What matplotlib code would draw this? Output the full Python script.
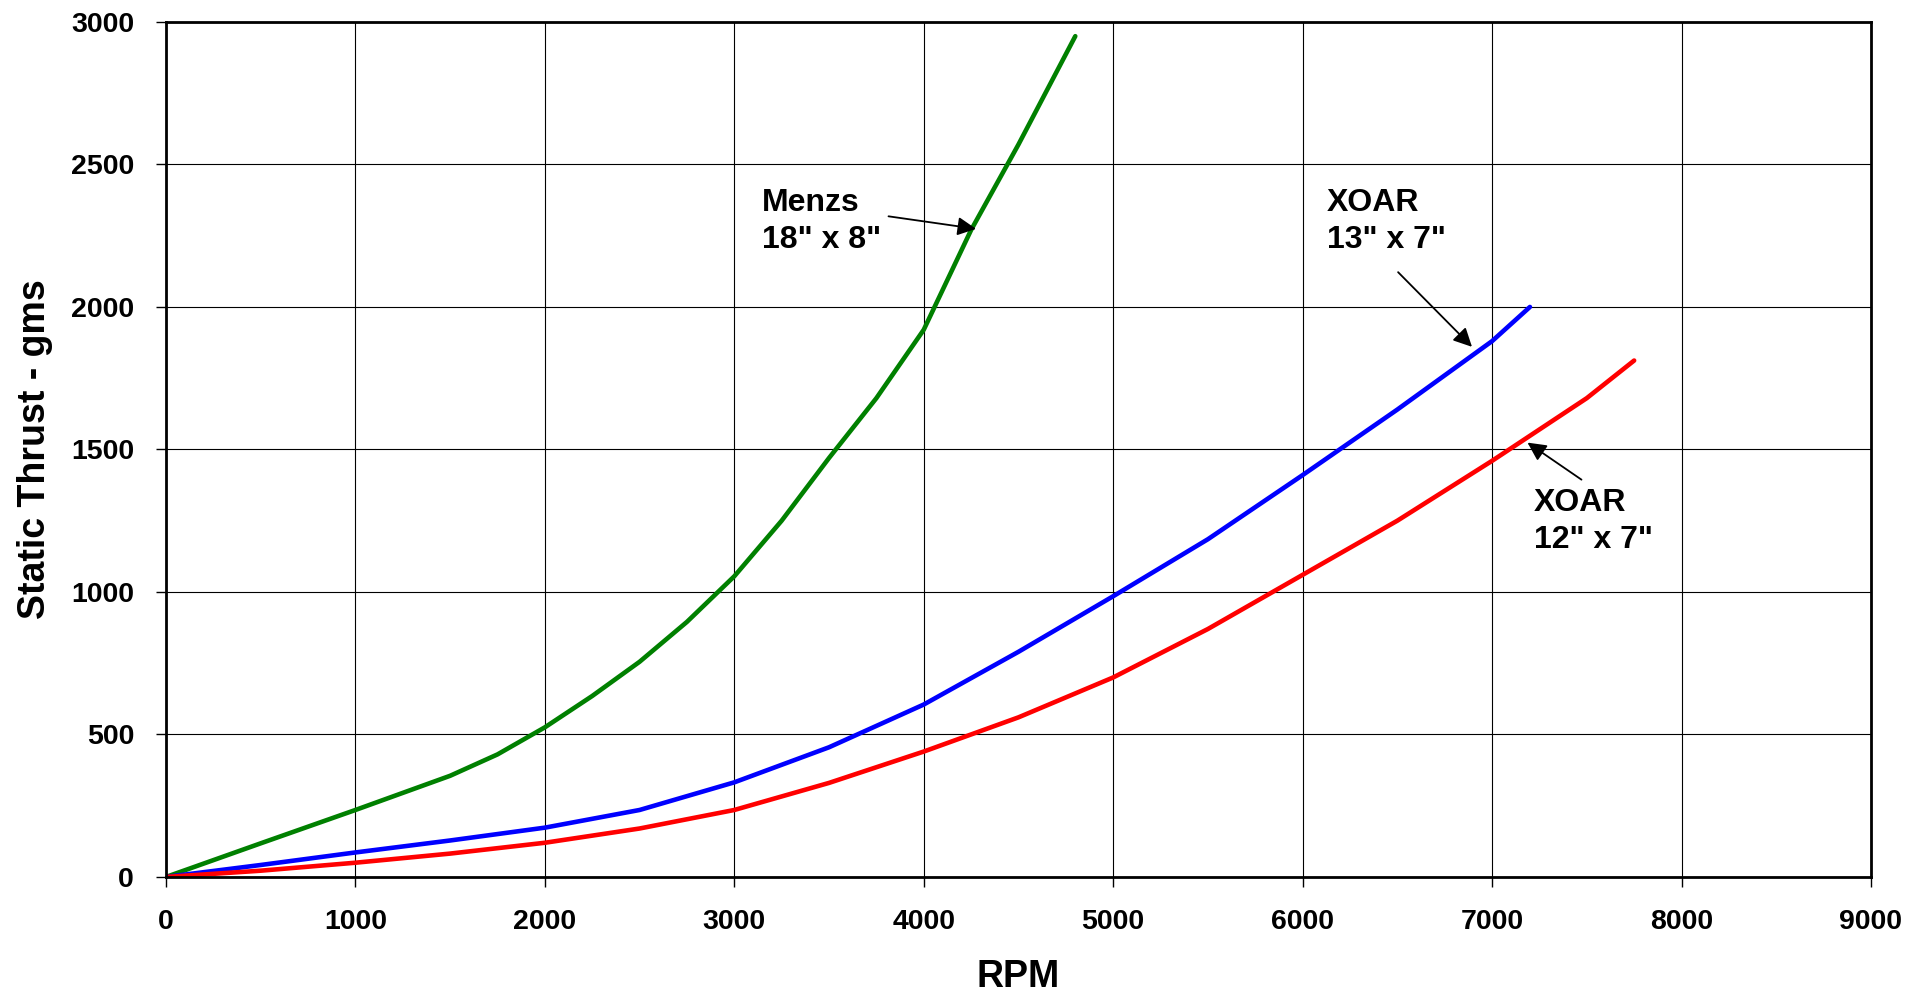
import matplotlib.pyplot as plt

plt.rcParams['font.family'] = ['Liberation Sans', 'DejaVu Sans']
plt.rcParams['font.weight'] = 'bold'

# Menzs 18" x 8"
rpm_menzs = [0, 500, 1000, 1500, 1750, 2000, 2250, 2500, 2750, 3000, 3250, 3500, 3750, 4000, 4250, 4500, 4800]
thrust_menzs = [0, 118, 235, 355, 430, 525, 635, 755, 895, 1055, 1250, 1470, 1680, 1920, 2270, 2570, 2950]

# XOAR 13" x 7"
rpm_x13 = [0, 500, 1000, 1500, 2000, 2500, 3000, 3500, 4000, 4500, 5000, 5500, 6000, 6500, 7000, 7200]
thrust_x13 = [0, 42, 86, 128, 173, 235, 332, 455, 605, 790, 985, 1185, 1410, 1640, 1880, 2000]

# XOAR 12" x 7"
rpm_x12 = [0, 500, 1000, 1500, 2000, 2500, 3000, 3500, 4000, 4500, 5000, 5500, 6000, 6500, 7000, 7500, 7750]
thrust_x12 = [0, 22, 50, 82, 120, 170, 235, 330, 440, 560, 700, 870, 1060, 1250, 1460, 1680, 1812]

fig = plt.figure(figsize=(19.3, 9.97), dpi=100)
ax = fig.add_axes([0.086, 0.1204, 0.8834, 0.8576])

for x, y, c in [(rpm_menzs, thrust_menzs, '#008000'),
                (rpm_x13, thrust_x13, '#0000ff'),
                (rpm_x12, thrust_x12, '#ff0000')]:
    ax.plot(x, y, color=c, lw=3.3, solid_joinstyle='round', solid_capstyle='round')

ax.set_xlim(0, 9000)
ax.set_ylim(0, 3000)
ax.set_xticks(range(0, 9001, 1000))
ax.set_yticks(range(0, 3001, 500))
ax.grid(True, color='black', lw=0.8)
ax.set_axisbelow(True)
for s in ax.spines.values():
    s.set_linewidth(2)
ax.tick_params(axis='both', labelsize=20.5, length=7, width=1, pad=16)

ax.set_xlabel('RPM', fontsize=27, fontweight='bold', labelpad=17)
ax.set_ylabel('Static Thrust - gms', fontsize=27, fontweight='bold', labelpad=13)

# labels and arrows
txt = dict(fontsize=23, fontweight='bold', va='center', ha='left', linespacing=1.3)
arrow = dict(arrowstyle='-|>', color='black', lw=1.3, mutation_scale=28, shrinkA=0, shrinkB=0)

ax.text(3145, 2300, 'Menzs\n18" x 8"', **txt)
ax.annotate('', xy=(4276, 2274), xytext=(3814, 2318), arrowprops=arrow)

ax.text(6127, 2300, 'XOAR\n13" x 7"', **txt)
ax.annotate('', xy=(6894, 1860), xytext=(6504, 2122), arrowprops=arrow)

ax.text(7219, 1247, 'XOAR\n12" x 7"', **txt)
ax.annotate('', xy=(7187, 1524), xytext=(7472, 1394), arrowprops=arrow)

fig.savefig('out.png', dpi=100)
